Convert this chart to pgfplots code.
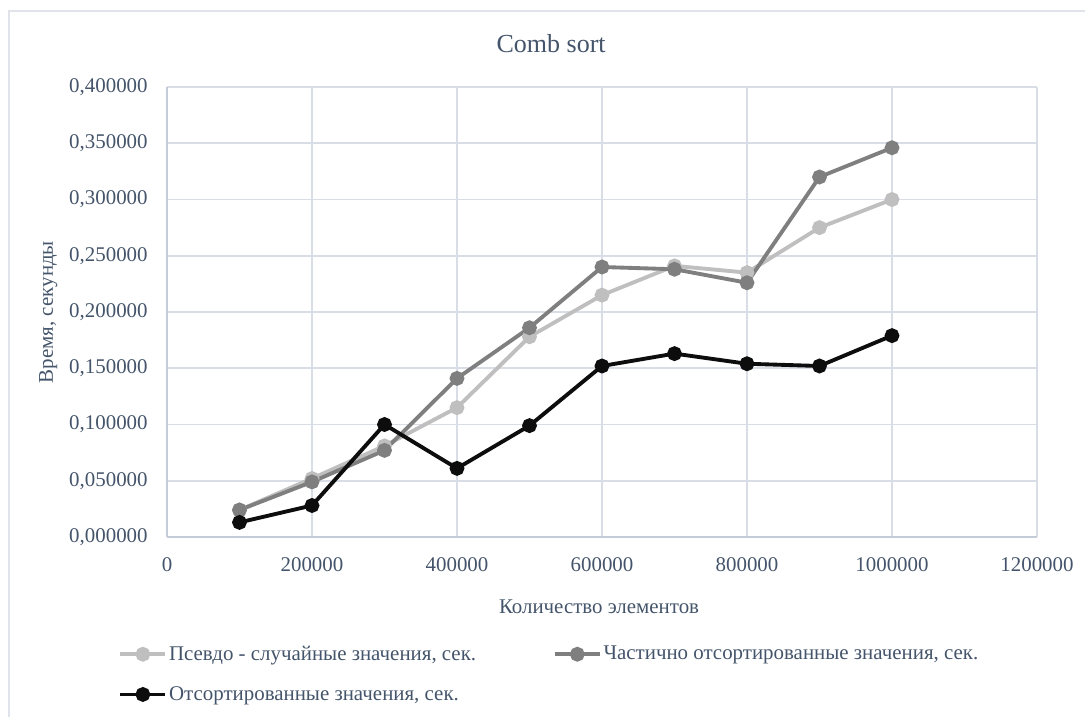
\documentclass[border=0pt]{standalone}
\usepackage{fontspec}
\setmainfont{Liberation Serif}
\usepackage{pgfplots}
\pgfplotsset{compat=1.18}

\definecolor{txt}{HTML}{44546A}
\definecolor{gridc}{HTML}{D9DEE6}
\definecolor{axisc}{HTML}{C5CCD8}
\definecolor{frame}{HTML}{E0E4EA}
\definecolor{sLight}{HTML}{BFBFBF}
\definecolor{sMid}{HTML}{7F7F7F}
\definecolor{sDark}{HTML}{0D0D0D}

\begin{document}
\begin{tikzpicture}
\useasboundingbox (0,0) rectangle (21.7cm,14.34cm);
% chart border (clipped on the right and bottom in the reference)
\draw[frame,line width=1.2pt] (0.18cm,0) -- (0.18cm,14.12cm) -- (21.7cm,14.12cm);

\begin{axis}[
  at={(3.34cm,3.6cm)}, anchor=south west,
  scale only axis, width=17.4cm, height=9.0cm,
  xmin=0, xmax=1200000, ymin=0, ymax=0.4,
  xtick={0,200000,...,1200000},
  ytick={0,0.05,...,0.4},
  scaled x ticks=false, scaled y ticks=false,
  grid=major, grid style={gridc,line width=0.9pt},
  axis line style={axisc,line width=0.9pt},
  axis x line*=bottom, axis y line*=left,
  separate axis lines,
  x axis line style={-}, y axis line style={-},
  major tick length=0pt,
  tick label style={font=\fontsize{11.9}{14}\selectfont,text=txt},
  /pgf/number format/assume math mode=true,
  xticklabel style={/pgf/number format/fixed,/pgf/number format/1000 sep={},
                    inner sep=0pt, anchor=north, yshift=-0.4cm},
  yticklabel style={/pgf/number format/fixed,/pgf/number format/fixed zerofill,
                    /pgf/number format/precision=6,/pgf/number format/use comma,
                    inner sep=0pt, anchor=east, xshift=-0.38cm},
  title={Comb sort},
  title style={font=\fontsize{14.8}{17}\selectfont,text=txt,
               at={(axis description cs:0.4415,1.072)},anchor=center},
  xlabel={Количество элементов},
  xlabel style={font=\fontsize{11.9}{14}\selectfont,text=txt,
                at={(axis description cs:0.4966,-0.1556)},anchor=center},
  ylabel={Время, секунды},
  ylabel style={font=\fontsize{11.9}{14}\selectfont,text=txt,
                at={(axis description cs:-0.1365,0.5)},anchor=center},
  every axis plot/.append style={line width=2.2pt,mark=*,mark size=3.1pt},
  legend columns=2,
  legend cell align=left,
  legend style={draw=none,fill=none,inner sep=0pt,
                at={(axis description cs:-0.0562,-0.237)},anchor=north west,
                font=\fontsize{11.9}{14}\selectfont,text=txt,
                row sep=0.4cm,
                nodes={inner sep=1pt},
                /tikz/every even column/.append style={column sep=1.5cm}},
  legend image code/.code={
    \draw[mark repeat=2,mark phase=2] plot coordinates {(0cm,0cm)(0.45cm,0cm)(0.9cm,0cm)};},
]
\addplot[sLight,mark options={fill=sLight}] coordinates {
  (100000,0.024)(200000,0.052)(300000,0.081)(400000,0.115)(500000,0.178)
  (600000,0.215)(700000,0.241)(800000,0.235)(900000,0.275)(1000000,0.300)};
\addlegendentry{Псевдо - случайные значения, сек.}
\addplot[sMid,mark options={fill=sMid}] coordinates {
  (100000,0.024)(200000,0.049)(300000,0.077)(400000,0.141)(500000,0.186)
  (600000,0.240)(700000,0.238)(800000,0.226)(900000,0.320)(1000000,0.346)};
\addlegendentry{Частично отсортированные значения, сек.}
\addplot[sDark,mark options={fill=sDark}] coordinates {
  (100000,0.013)(200000,0.028)(300000,0.100)(400000,0.061)(500000,0.099)
  (600000,0.152)(700000,0.163)(800000,0.154)(900000,0.152)(1000000,0.179)};
\addlegendentry{Отсортированные значения, сек.}
\end{axis}
\end{tikzpicture}
\end{document}
